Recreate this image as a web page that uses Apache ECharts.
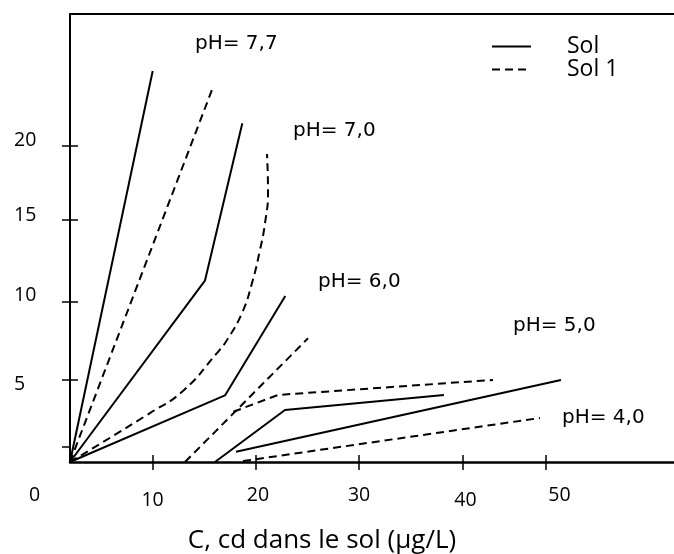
<!DOCTYPE html>
<html><head><meta charset="utf-8">
<script src="https://cdn.jsdelivr.net/npm/echarts@6/dist/echarts.min.js"></script>
<style>html,body{margin:0;padding:0;background:#fff}#c{width:674px;height:554px}</style>
</head><body><div id="c"></div>
<script>
// Axis ticks / labels (values, as placed in the reference)
const xTickValues = [10, 20, 30, 40, 48.1];
const xLabelValues = [10, 20.2, 30, 40.3, 49.4];
const yTickValues = [0.96, 5.12, 10.02, 15.17, 19.77];
const yInnerTickValues = [5.12, 10.02, 15.17, 19.77];
const yLabelValues = [4.84, 10.38, 15.44, 20.12];

// Series: [C (µg/L), value]
const sol_pH77  = [[2,0],[10.01,24.44]];
const sol1_pH77 = [[2,0],[15.78,23.31]];
const sol_pH70  = [[2,0],[15.07,11.33],[18.69,21.17]];
const sol1_pH70 = [[2,0],[9.75,3.06],[12.94,4.44],[16.21,6.79],[17.21,7.63],[18.66,9.31],[19.63,11.19],[20.40,13.25],[20.89,14.94],[21.18,16.88],[21.08,19.25]];
const sol_pH60  = [[2,0],[17.01,4.16],[22.85,10.38]];
const sol1_pH60 = [[13.14,0],[25.05,7.73]];
const sol_pH50  = [[18.08,0.64],[49.55,5.13]];
const sol1_pH50 = [[17.82,3.14],[22.15,4.19],[42.97,5.13]];
const sol_pH40  = [[16.04,0],[22.82,3.25],[38.22,4.19]];
const sol1_pH40 = [[18.76,0.06],[47.52,2.75]];

const phLabels = ['pH= 7,7','pH= 7,0','pH= 6,0','pH= 5,0','pH= 4,0'];
const xTitle = 'C, cd dans le sol (µg/L)';

const FONT = '"Open Sans", Lato, sans-serif';
const DASH = [8,5];
function mk(name, data, dashed, smooth){
  return {type:'line', name:name, data:data, showSymbol:false, symbol:'none', smooth: smooth||false,
    animation:false, silent:true,
    lineStyle:{color:'#000', width:2, type: dashed?DASH:'solid'}, itemStyle:{color:'#000'}};
}
const series = [
  mk('Sol', sol_pH77, false), mk('Sol 1', sol1_pH77, true),
  mk('Sol', sol_pH70, false), mk('Sol 1', sol1_pH70, true, 0.5),
  mk('Sol', sol_pH60, false), mk('Sol 1', sol1_pH60, true),
  mk('Sol', sol_pH50, false), mk('Sol 1', sol1_pH50, true),
  mk('Sol', sol_pH40, false), mk('Sol 1', sol1_pH40, true)
];

const labelStyle = {fontFamily:FONT, fontSize:19.5, color:'#000'};
const chart = echarts.init(document.getElementById('c'), null, {renderer:'canvas'});
const phPos = [[195,34],[293,121],[318,272],[513,316],[562,408]];
chart.setOption({
  backgroundColor:'#fff',
  animation:false,
  grid:{left:70, right:0, top:14, bottom:92, containLabel:false, outerBoundsMode:'none'},
  legend:{orient:'vertical', left:491, top:35, padding:0, itemGap:0, itemWidth:39, itemHeight:14,
    data:['Sol','Sol 1'], selectedMode:false,
    itemStyle:{opacity:0},
    textStyle:{fontFamily:FONT, fontSize:23, color:'#000', padding:[0,0,0,31]}},
  xAxis:[
    {type:'value', min:2, max:60.5, position:'bottom',
     axisLine:{onZero:false, lineStyle:{color:'#000', width:2.5}},
     axisTick:{show:true, inside:false, length:8, customValues:xTickValues, lineStyle:{color:'#000', width:1.5}},
     axisLabel:{customValues:xLabelValues, margin:23,
       formatter:v=>{const r=Math.round(v/10)*10; return (r===10||r===40)?'{lo|'+r+'}':'{n|'+r+'}';},
       rich:{lo:Object.assign({padding:[5,0,0,0]}, labelStyle), n:Object.assign({}, labelStyle)},
       fontFamily:FONT, fontSize:19.5, color:'#000'},
     splitLine:{show:false},
     name:xTitle, nameLocation:'middle', nameGap:66,
     nameTextStyle:{fontFamily:FONT, fontSize:26, color:'#000', padding:[0,100,0,0]}},
    {type:'value', min:2, max:60.5, position:'bottom',
     axisLine:{show:false, onZero:false},
     axisTick:{show:true, inside:true, length:7, customValues:xTickValues, lineStyle:{color:'#000', width:1.5}},
     axisLabel:{show:false}, splitLine:{show:false}},
    {type:'value', min:2, max:60.5, position:'top',
     axisLine:{show:true, onZero:false, lineStyle:{color:'#000', width:2}},
     axisTick:{show:false}, axisLabel:{show:false}, splitLine:{show:false}}
  ],
  yAxis:[
    {type:'value', min:0, max:28, position:'left',
     axisLine:{show:true, onZero:false, lineStyle:{color:'#000', width:2}},
     axisTick:{show:true, inside:false, length:8, customValues:yTickValues, lineStyle:{color:'#000', width:1.5}},
     axisLabel:{customValues:yLabelValues, formatter:v=>String(Math.round(v/5)*5), align:'left', margin:56, fontFamily:FONT, fontSize:19.5, color:'#000'},
     splitLine:{show:false}},
    {type:'value', min:0, max:28, position:'left',
     axisLine:{show:false, onZero:false},
     axisTick:{show:true, inside:true, length:8, customValues:yInnerTickValues, lineStyle:{color:'#000', width:1.5}},
     axisLabel:{show:false}, splitLine:{show:false}}
  ],
  graphic:[
    ...phLabels.map((t,i)=>({type:'text', left:phPos[i][0], top:phPos[i][1], silent:true,
      style:{text:t, font:'20px "DejaVu Sans"', fill:'#000'}})),
    {type:'text', left:29, top:485, silent:true, style:{text:'0', font:'19.5px "Open Sans"', fill:'#000'}}
  ],
  series:series
});
</script></body></html>
